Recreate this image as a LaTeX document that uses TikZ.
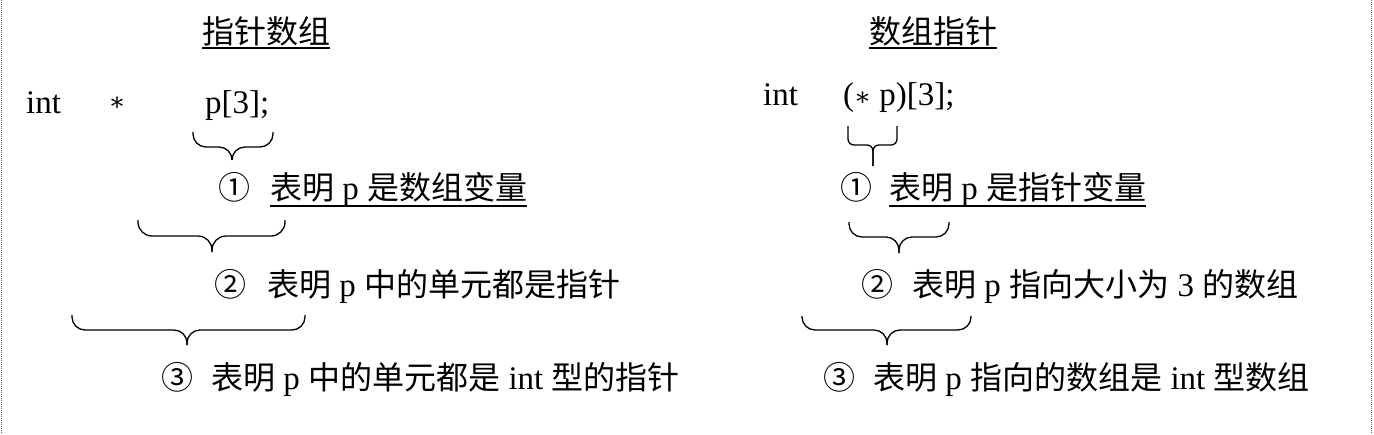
\documentclass[tikz,border=0pt]{standalone}
\usepackage{fontspec}
\setmainfont{Liberation Serif}
\newfontfamily\cjk[Scale=0.97]{Noto Sans CJK SC}
\newfontfamily\astfont{DejaVu Serif}
\newcommand\zh[1]{{\cjk #1}}
\newcommand\myast{{\astfont\fontsize{25}{25}\selectfont ∗}}
% xl xr yt ym tip xc r r2
\newcommand\mybrace[8]{%
\draw[bracestyle] (#1,#3) -- (#1,{#4-#7}) .. controls (#1,{#4-0.45*#7}) and ({#1+0.45*#7},#4) .. ({#1+#7},#4) -- ({#6-#8},#4) .. controls ({#6-0.45*#8},#4) and (#6,{#4+0.45*#8}) .. (#6,{#4+#8}) -- (#6,#5);
\draw[bracestyle] (#2,#3) -- (#2,{#4-#7}) .. controls (#2,{#4-0.45*#7}) and ({#2-0.45*#7},#4) .. ({#2-#7},#4) -- ({#6+#8},#4) .. controls ({#6+0.45*#8},#4) and (#6,{#4+0.45*#8}) .. (#6,{#4+#8}) -- (#6,#5);}
\begin{document}
\begin{tikzpicture}[x=1pt,y=-1pt,font=\fontsize{33}{38}\selectfont,
  txt/.style={inner sep=0pt,anchor=base west},
  num/.style={inner sep=0pt,anchor=base},
  bracestyle/.style={line width=1.3pt,line join=round},
  uline/.style={line width=1.6pt},
  border/.style={densely dotted,line width=1pt,black!60}]
\useasboundingbox (0,0) rectangle (1374,434);
\draw[border] (1,0) -- (1,434);
\draw[border] (1371,0) -- (1371,434);
% left
\node[txt] (titleL) at (202,43) {\zh{指针数组}};
\draw[uline] ([yshift=-5pt]titleL.base west) -- ([yshift=-5pt]titleL.base east);
\node[txt] (intL) at (26,113) {int};
\node[inner sep=0pt] (astL) at (117,104) {\myast};
\node[txt] (declL) at (205,113) {p[3];};
\mybrace{193}{273}{132}{147}{160}{232}{13}{13}
\node[num] (n1L) at (235,199) {\zh{①}};
\node[txt] (t1L) at (270,199) {\zh{表明} p \zh{是数组变量}};
\draw[uline] ([yshift=-7pt]t1L.base west) -- ([yshift=-7pt]t1L.base east);
\mybrace{138}{285}{220}{236}{252}{212}{14}{14}
\node[num] (n2L) at (231,296) {\zh{②}};
\node[txt] (t2L) at (267,296) {\zh{表明} p \zh{中的单元都是指针}};
\mybrace{72}{305}{315}{330}{345}{187}{13}{13}
\node[num] (n3L) at (178,389) {\zh{③}};
\node[txt] (t3L) at (211,389) {\zh{表明} p \zh{中的单元都是} int \zh{型的指针}};
% right
\node[txt] (titleR) at (869,43) {\zh{数组指针}};
\draw[uline] ([yshift=-5pt]titleR.base west) -- ([yshift=-5pt]titleR.base east);
\node[txt] (intR) at (763,105) {int};
\node[txt] (declR) at (843,105) {(\myast\ p)[3];};
\mybrace{848}{897}{126}{145}{166}{873}{6}{6}
\node[num] (n1R) at (856,199) {\zh{①}};
\node[txt] (t1R) at (889,199) {\zh{表明} p \zh{是指针变量}};
\draw[uline] ([yshift=-7pt]t1R.base west) -- ([yshift=-7pt]t1R.base east);
\mybrace{849}{949}{222}{237}{253}{899}{13}{13}
\node[num] (n2R) at (877,296) {\zh{②}};
\node[txt] (t2R) at (912,296) {\zh{表明} p \zh{指向大小为} 3 \zh{的数组}};
\mybrace{802}{971}{316}{330}{345}{887}{13}{13}
\node[num] (n3R) at (839,389) {\zh{③}};
\node[txt] (t3R) at (873,389) {\zh{表明} p \zh{指向的数组是} int \zh{型数组}};
\end{tikzpicture}
\end{document}
